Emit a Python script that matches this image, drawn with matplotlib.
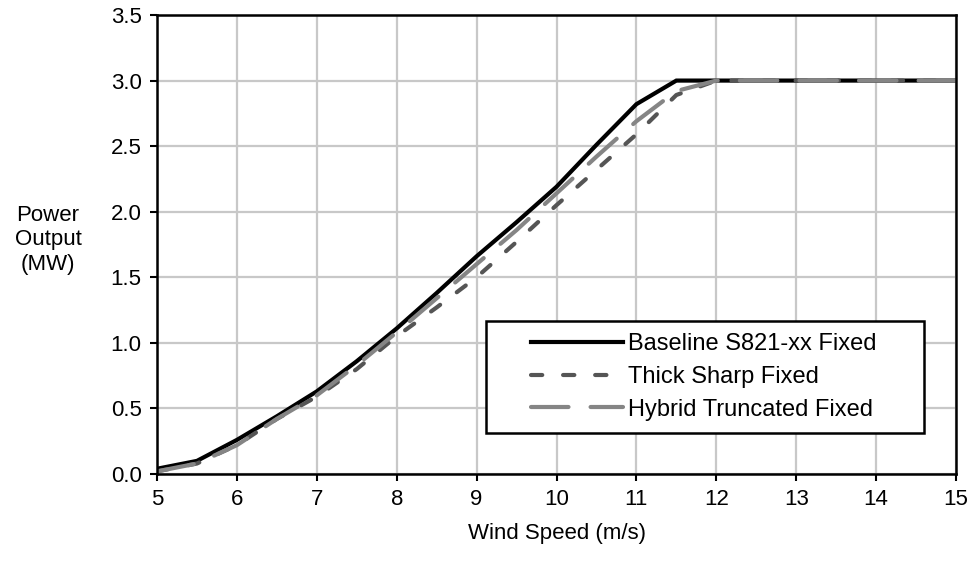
import matplotlib.pyplot as plt
from matplotlib.patches import Rectangle

plt.rcParams['font.family'] = ['Liberation Sans', 'DejaVu Sans']

# wind speed bins (m/s)
wind_speed = [5.0, 5.5, 6.0, 6.5, 7.0, 7.5, 8.0, 8.5, 9.0, 9.5, 10.0,
              10.5, 11.0, 11.5, 12.0, 12.5, 13.0, 13.5, 14.0, 14.5, 15.0]

# power output (MW)
baseline = [0.04, 0.10, 0.26, 0.44, 0.63, 0.86, 1.11, 1.38, 1.66, 1.92, 2.19,
            2.51, 2.82, 3.00, 3.00, 3.00, 3.00, 3.00, 3.00, 3.00, 3.00]
thick_sharp = [0.02, 0.08, 0.22, 0.42, 0.59, 0.80, 1.05, 1.27, 1.50, 1.77, 2.05,
               2.32, 2.59, 2.89, 3.00, 3.00, 3.00, 3.00, 3.00, 3.00, 3.00]
hybrid = [0.02, 0.08, 0.22, 0.42, 0.60, 0.83, 1.08, 1.34, 1.60, 1.86, 2.14,
          2.42, 2.69, 2.92, 3.00, 3.00, 3.00, 3.00, 3.00, 3.00, 3.00]

x_ticks = [5, 6, 7, 8, 9, 10, 11, 12, 13, 14, 15]
y_ticks = [0.0, 0.5, 1.0, 1.5, 2.0, 2.5, 3.0, 3.5]

FS = 16

fig = plt.figure(figsize=(9.74, 5.61), dpi=100)
ax = fig.add_axes([157 / 974, 1 - 474 / 561, 799 / 974, 459 / 561])

ax.plot(wind_speed, baseline, color='black', lw=3,
        solid_joinstyle='miter', label='Baseline S821-xx Fixed')
ax.plot(wind_speed, thick_sharp, color='#555555', lw=3,
        dashes=(2.7, 5), dash_capstyle='round', label='Thick Sharp Fixed')
ax.plot(wind_speed, hybrid, color='#858585', lw=3,
        dashes=(9, 5.3), dash_capstyle='round', label='Hybrid Truncated Fixed')

ax.set_xlim(5, 15)
ax.set_ylim(0, 3.5)
ax.set_xticks(x_ticks)
ax.set_yticks(y_ticks)
ax.set_yticklabels([f'{v:.1f}' for v in y_ticks])
ax.grid(True, color='#c8c8c8', lw=1.6)
ax.set_axisbelow(True)
for s in ax.spines.values():
    s.set_linewidth(1.8)
    s.set_color('black')
ax.tick_params(labelsize=FS, width=1.5, length=5, direction='out', pad=6)

ax.set_xlabel('Wind Speed (m/s)', fontsize=FS, labelpad=9)
fig.text(48 / 974, 1 - 240 / 561, 'Power\nOutput\n(MW)', fontsize=FS,
         ha='center', va='center', linespacing=1.2)

# legend frame drawn separately so the padding can be wider than tall
ax.add_patch(Rectangle((0.4118, 0.0893), 0.5482, 0.244, transform=ax.transAxes,
                       facecolor='white', edgecolor='black', lw=1.8, zorder=4.5))
leg = ax.legend(loc='center', bbox_to_anchor=(0.684, 0.2113), frameon=False,
                fontsize=17, handlelength=3.9, handletextpad=0.2,
                borderpad=0.2, labelspacing=0.45)
leg.set_zorder(5)

fig.savefig('out.png', dpi=100)
